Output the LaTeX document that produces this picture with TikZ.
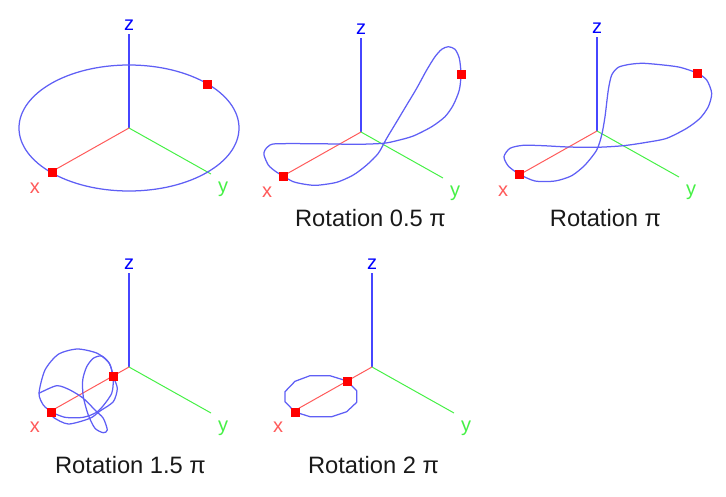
\documentclass[tikz,border=0pt]{standalone}
\usepackage{xcolor}
\usepackage{fontspec}
\setmainfont{Liberation Sans}
\usepackage{tikz}
\definecolor{curveblue}{RGB}{95,95,245}
\definecolor{zblue}{RGB}{70,70,255}
\definecolor{xred}{RGB}{255,90,90}
\definecolor{ygreen}{RGB}{70,240,70}
\tikzset{
	axislabel/.style={font=\fontsize{20}{20}\selectfont, inner sep=0pt},
	caption/.style={font=\fontsize{23.7}{24}\selectfont, inner sep=0pt, text=black!90},
	marker/.style={draw=none, fill=red, minimum size=9pt, inner sep=0pt},
	curve/.style={draw=curveblue, line width=1.25pt, line join=round},
}
\begin{document}
\begin{tikzpicture}[x=1pt, y=-1pt]
			\useasboundingbox (0,0) rectangle (726,496);

			% the five sets of axes
			\foreach \panel/\ox/\oy in {one/129/128, two/361/132, three/597/131, four/129/367, five/372/367} {
				\coordinate (origin-\panel) at (\ox,\oy);
				\coordinate (ztip-\panel) at (\ox,\oy-94);
				\coordinate (xtip-\panel) at (\ox-78,\oy+44);
				\coordinate (ytip-\panel) at (\ox+82,\oy+46);
				\node[axislabel, text=blue] (zlabel-\panel) at (\ox,\oy-102.5) {z};
				\node[axislabel, text=xred] (xlabel-\panel) at (\ox-94,\oy+60.5) {x};
				\node[axislabel, text=ygreen] (ylabel-\panel) at (\ox+94,\oy+61.5) {y};
				\draw[zblue, line width=1.1pt] (origin-\panel) -- (ztip-\panel);
				\draw[xred, line width=1pt] (origin-\panel) -- (xtip-\panel);
				\draw[ygreen, line width=1pt] (origin-\panel) -- (ytip-\panel);
			}

			% points on the curves
			\coordinate (a-one) at (52,172);
			\coordinate (b-one) at (207,84);
			\coordinate (a-two) at (283,176);
			\coordinate (b-two) at (461,74);
			\coordinate (a-three) at (519,174);
			\coordinate (b-three) at (697,73);
			\coordinate (a-four) at (51,412);
			\coordinate (b-four) at (113,376);
			\coordinate (a-five) at (295,412);
			\coordinate (b-five) at (347,381);

			% the curves
			\draw[curve] (origin-one) ellipse [x radius=110, y radius=63];
			\draw[curve] plot[smooth cycle, tension=.45] coordinates {(a-two) (293.3,181.7) (305,184.3) (316.7,185.3) (336.7,182.3)
				(353.3,175) (366.7,165) (378.3,153.3) (386.7,138.3) (396.7,121.7)
				(406.7,105) (416.7,88.3) (426.7,70) (435,56.7) (441.7,49.3)
				(448.3,46.7) (455,49.3) (459.3,58.3) (b-two) (459.3,90)
				(453.3,105) (445,116.7) (431.7,126.7) (413.3,136) (396.7,140.7)
				(383.3,143.3) (356.7,144.3) (316.7,143.7) (278.3,143.7) (270,145)
				(265,150) (264,155) (268.3,165) (275,171)};
			\draw[curve] plot[smooth cycle, tension=.45] coordinates {(a-three) (535,181) (555,181) (571.7,175.7) (585,165)
				(596.7,150) (601.7,135) (605,116.7) (608.3,90) (611.7,75)
				(618.3,67.3) (630,64.3) (643.3,63.3) (663.3,65) (680,67.3)
				(b-three) (706.7,80) (711.7,93.3) (708.3,106.7) (700,118.3)
				(686.7,128.3) (666.7,138.3) (646.7,142.3) (623.3,145.7) (596.7,147.3)
				(568.3,147) (543.3,145.7) (523.3,145.3) (510,148.3) (504,156.7)
				(508.3,166)};
			\draw[curve] plot[smooth cycle, tension=.45] coordinates {(a-four) (53.3,417.3)
				(68.3,424) (90,418.3) (100,411) (113.3,401.7) (117.3,388.3)
				(b-four) (109.3,363.3) (97.3,353.3) (77.3,349) (58.3,354.3)
				(45,370) (39,393.3) (43.3,405)};
			\draw[curve] plot[smooth, tension=.45] coordinates {(a-four) (65,417.3) (83.3,417.3) (98.3,411) (111.7,393.3)
				(b-four) (109.3,363.3) (101.7,356) (93.3,358.3) (86.7,366.7)
				(82.7,380) (83.3,396.7) (88.3,415) (95,428.3) (103.3,432.7)
				(107.3,430) (103.3,418.3) (95,410) (83.3,398.3) (70,390)
				(56.7,385.7) (39,393.3)};
			\draw[curve] (a-five) -- (310,416.7) -- (331.7,416.7) -- (346.7,411.7) -- (356.7,402.3)
				-- (356.7,390.7) -- (b-five) -- (330,375.7) -- (310,375.7) -- (295,381.3)
				-- (285,391.7) -- (285,401.7) -- cycle;

			% red squares go on top
			\foreach \point in {a-one, b-one, a-two, b-two, a-three, b-three, a-four, b-four, a-five, b-five}
				\node[marker] (square-\point) at (\point) {};

			% captions
			\node[caption] (caption-two) at (370.5,218) {Rotation 0.5 π};
			\node[caption] (caption-three) at (605.5,218) {Rotation π};
			\node[caption] (caption-four) at (130.5,465) {Rotation 1.5 π};
			\node[caption] (caption-five) at (373.5,465) {Rotation 2 π};
		\end{tikzpicture}
\end{document}
